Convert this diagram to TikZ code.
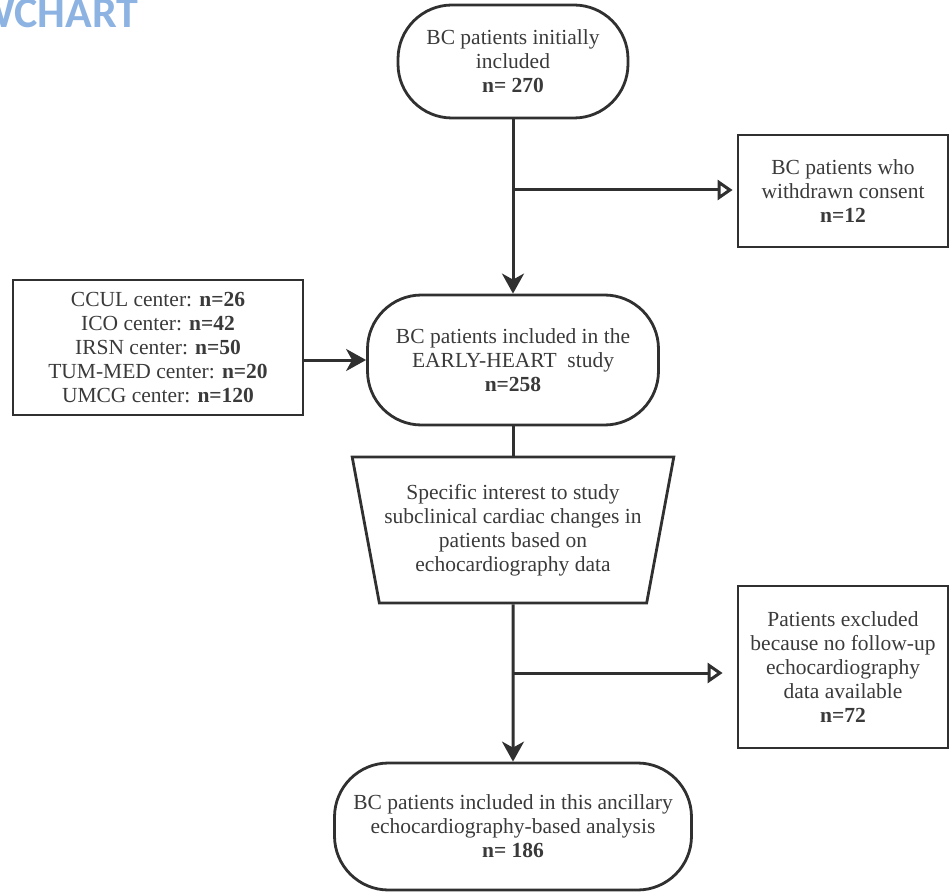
\documentclass[tikz,border=0pt]{standalone}
\usepackage{fontspec}
\setmainfont{Liberation Serif}
\newfontfamily\headfont{Carlito}
\usepackage{xcolor}
\usetikzlibrary{shapes.geometric, arrows.meta, positioning}
\definecolor{linegray}{HTML}{303030}
\definecolor{textgray}{HTML}{3A3A3A}
\definecolor{headblue}{HTML}{8DB3E2}
\tikzstyle{startstop} = [rectangle, rounded corners=54pt, draw=linegray, line width=2.8pt, text=textgray, inner sep=3pt]
\tikzstyle{process}   = [rectangle, draw=linegray, line width=2.8pt, text=textgray, inner sep=3pt]
\tikzstyle{manual}    = [trapezium, trapezium stretches=true, trapezium left angle=74.7, trapezium right angle=74.7, shape border rotate=180, draw=linegray, line width=2.8pt, text=textgray, inner sep=3pt]
\tikzstyle{link}      = [line width=3pt, draw=linegray]
\tikzstyle{arrow}     = [link, -{Stealth[length=20pt, width=22pt, inset=6pt]}]
\tikzstyle{sidearrow} = [link, -{Triangle[open, length=15pt, width=20pt]}]
\tikzset{every node/.style={align=center, font=\fontsize{21.5}{24}\selectfont}}

\begin{document}
\begin{tikzpicture}[x=1pt, y=-1pt]
    \useasboundingbox (0,0) rectangle (950,893);
    \clip (0,0) rectangle (950,893);

    % cut-off heading in the upper left corner
    \node (ttl) at (138.5, 28) [anchor=base east, inner sep=0pt, text=headblue, font=\headfont\bfseries\fontsize{44}{44}\selectfont] {FLOWCHART};

    \node (init) at (513,  61.5) [startstop, minimum width=230pt, minimum height=113pt] {BC patients initially\\included\\\textbf{n= 270}};
    \node (wd)   at (843, 191)   [process,   minimum width=210pt, minimum height=112pt] {BC patients who\\withdrawn consent\\\textbf{n=12}};
    \node (ctr)  at (158, 347.5) [process,   minimum width=290pt, minimum height=135pt] {CCUL center: \textbf{n=26}\\ICO center: \textbf{n=42}\\IRSN center: \textbf{n=50}\\TUM-MED center: \textbf{n=20}\\UMCG center: \textbf{n=120}};
    \node (incl) at (513, 360)   [startstop, minimum width=291pt, minimum height=130pt] {BC patients included in the\\EARLY-HEART\ \ study\\\textbf{n=258}};
    \node (int)  at (513, 530)   [manual,    minimum width=323pt, minimum height=146pt] {Specific interest to study\\subclinical cardiac changes in\\patients based on\\echocardiography data};
    \node (ex)   at (843, 667)   [process,   minimum width=210pt, minimum height=162pt] {Patients excluded\\because no follow-up\\echocardiography\\data available\\\textbf{n=72}};
    \node (fin)  at (513, 826.5) [startstop, minimum width=357pt, minimum height=127pt] {BC patients included in this ancillary\\echocardiography-based analysis\\\textbf{n= 186}};

    % main line with the first exclusion branch
    \draw [arrow] (init) -- (incl);
    \coordinate (b1) at (513, 190);
    \draw [sidearrow, shorten >=4pt] (b1) -- (b1 -| wd.west);
    % centres feeding the study
    \draw [arrow] (ctr.east |- incl.west) -- (incl.west);
    \draw [link]  (incl) -- (int);
    % second exclusion branch, then down to the analysis
    \draw [arrow] (int) -- (fin);
    \coordinate (b2) at (513, 673);
    \draw [sidearrow, shorten >=14pt] (b2) -- (b2 -| ex.west);
\end{tikzpicture}
\end{document}
